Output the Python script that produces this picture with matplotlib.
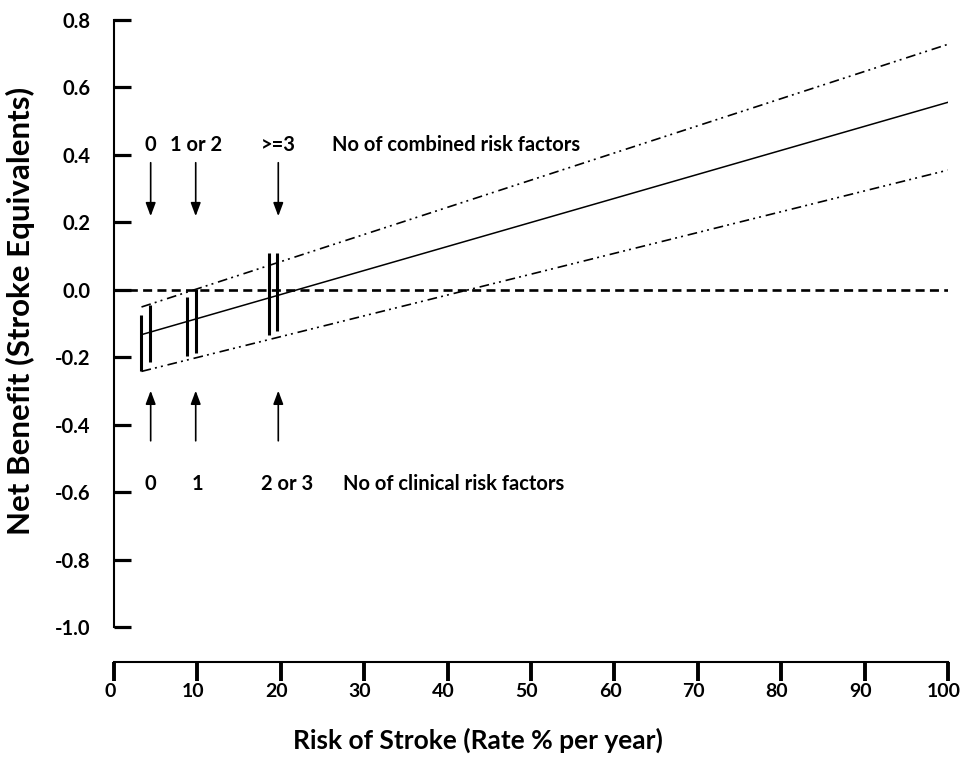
# Net benefit vs risk of stroke
import numpy as np
import matplotlib
matplotlib.use('Agg')
import matplotlib.pyplot as plt
import matplotlib.transforms as mtrans

plt.rcParams['font.family'] = ['Lato', 'DejaVu Sans']
plt.rcParams['font.weight'] = 'bold'
plt.rcParams['lines.scale_dashes'] = False

# Data
line_x = [3.3, 100]
net_mid = [-0.133, 0.556]
net_upper = [-0.051, 0.728]
net_lower = [-0.242, 0.355]

bar_x = [3.3, 4.3, 8.7, 9.8, 18.6, 19.6]
bar_lo = [-0.242, -0.214, -0.197, -0.188, -0.135, -0.121]
bar_hi = [-0.076, -0.044, -0.020, 0.003, 0.109, 0.109]

arrow_x = [4.4, 9.8, 19.7]
comb_labels = ['0', '1 or 2', '>=3']
comb_label_x = [4.4, 9.8, 19.7]
clin_labels = ['0', '1', '2 or 3']
clin_label_x = [4.4, 10.0, 20.8]

yticks = [-1.0, -0.8, -0.6, -0.4, -0.2, 0.0, 0.2, 0.4, 0.6, 0.8]
xticks = np.arange(0, 101, 10)

fig = plt.figure(figsize=(9.61, 7.63), dpi=100)
ax = fig.add_axes([0.1186, 0.1782, 0.8679, 0.7956])

ax.plot([0, 100], [0, 0], color='black', lw=1.9, dashes=(6.5, 3.8))
ax.plot(line_x, net_mid, color='black', lw=1.1)
ddd = (7, 3, 1.4, 3, 1.4, 3.5)
ax.plot(line_x, net_upper, color='black', lw=1.2, dashes=ddd)
ax.plot(line_x, net_lower, color='black', lw=1.2, dashes=ddd)

# bracket ends joining the bands to the first bar
ax.plot([line_x[0], line_x[0]], [net_lower[0], bar_lo[0]], color='black', lw=1.2)
ax.vlines(bar_x, bar_lo, bar_hi, color='black', lw=2.2)

# combined risk factor arrows (pointing down)
for x, lab, lx in zip(arrow_x, comb_labels, comb_label_x):
    ax.annotate('', xy=(x, 0.21), xytext=(x, 0.385),
                arrowprops=dict(arrowstyle='-|>,head_length=0.8,head_width=0.3',
                                color='black', lw=1.2))
    ax.text(lx, 0.43, lab, ha='center', va='center', fontsize=14.5, fontweight='bold')
ax.text(26.2, 0.43, 'No of combined risk factors', ha='left', va='center',
        fontsize=14.5, fontweight='bold')

# clinical risk factor arrows (pointing up)
for x, lab, lx in zip(arrow_x, clin_labels, clin_label_x):
    ax.annotate('', xy=(x, -0.291), xytext=(x, -0.456),
                arrowprops=dict(arrowstyle='-|>,head_length=0.8,head_width=0.3',
                                color='black', lw=1.2))
    ax.text(lx, -0.576, lab, ha='center', va='center', fontsize=14.5, fontweight='bold')
ax.text(27.5, -0.576, 'No of clinical risk factors', ha='left', va='center',
        fontsize=14.5, fontweight='bold')

ax.set_xlim(0, 100)
ax.set_ylim(-1.0, 0.8)
ax.spines['top'].set_visible(False)
ax.spines['right'].set_visible(False)
ax.spines['left'].set_linewidth(1.5)
ax.spines['bottom'].set_linewidth(1.5)
ax.spines['bottom'].set_position(('outward', 25))

ax.set_yticks(yticks)
ax.set_yticklabels(['{:.1f}'.format(v) for v in yticks])
ax.set_xticks(xticks)
ax.set_xticklabels([str(v) for v in xticks])
ax.tick_params(axis='y', direction='in', length=12, width=2.3, pad=17, labelsize=14.5)
ax.tick_params(axis='x', direction='out', length=13.5, width=2.8, pad=2, labelsize=14)

# nudge x tick labels a little left, as in the original
shift = mtrans.ScaledTranslation(-3 / 72, 0, fig.dpi_scale_trans)
for lab in ax.get_xticklabels():
    lab.set_transform(lab.get_transform() + shift)

ax.set_xlabel('Risk of Stroke (Rate % per year)', fontsize=19, fontweight='bold', labelpad=20)
ax.xaxis.label.set_x(0.436)
ax.set_ylabel('Net Benefit (Stroke Equivalents)', fontsize=22.5, fontweight='bold', labelpad=14)
ax.yaxis.label.set_y(0.52)

plt.savefig('out.png', dpi=100)
